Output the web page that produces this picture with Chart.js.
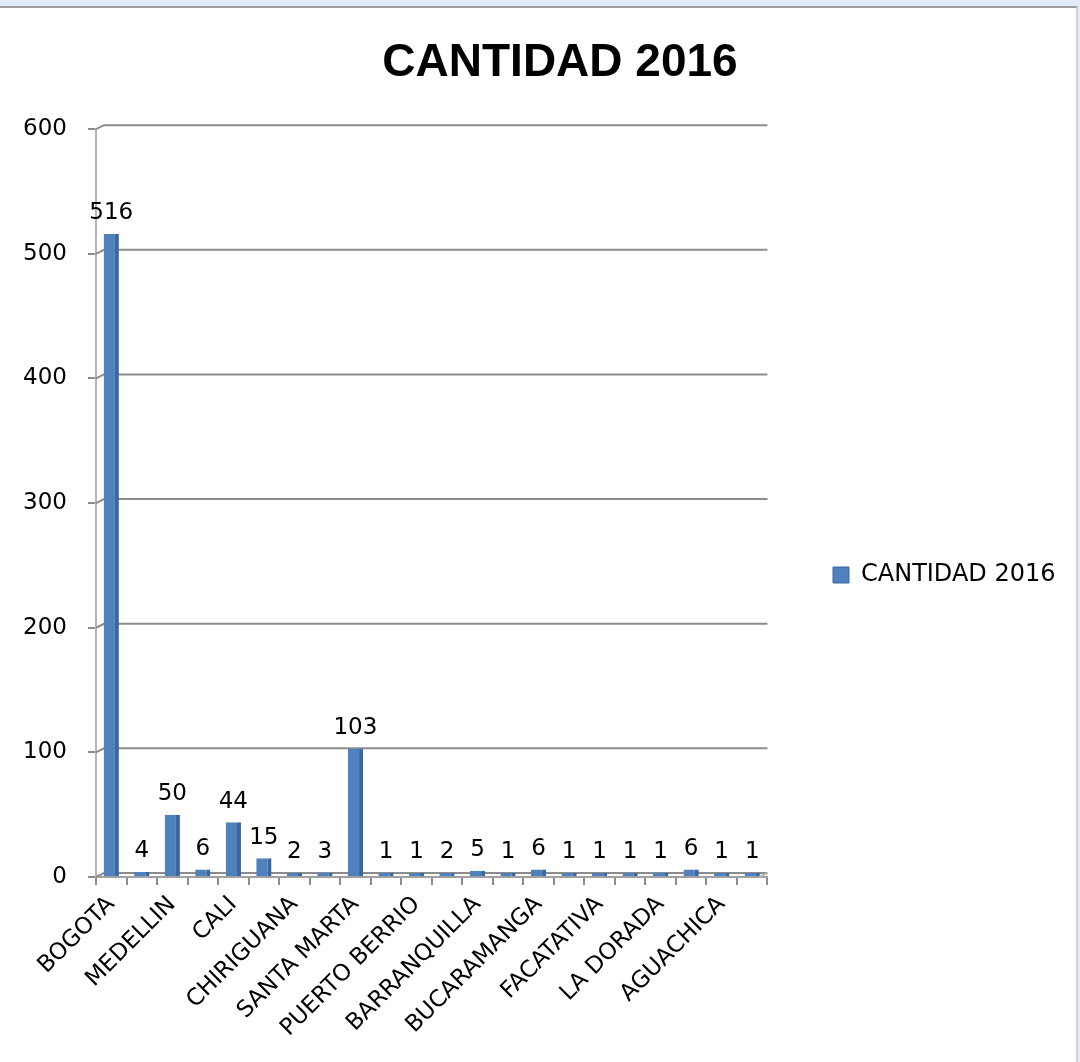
<!DOCTYPE html>
<html lang="es">
<head>
    <meta charset="UTF-8">
    <title>CANTIDAD 2016</title>
    <script src="https://cdn.jsdelivr.net/npm/chart.js"></script>
    <style>
        body {
            margin: 0;
            background-color: #e2ecf8;
            width: 1080px;
            height: 1062px;
            overflow: hidden;
        }

        .frame {
            position: absolute;
            left: 0;
            top: 6px;
            width: 1076px;
            height: 1056px;
            background-color: #ffffff;
            border-top: 2px solid #9e9e9e;
            border-right: 2px solid #d2d2d2;
        }

        canvas {
            display: block;
        }
    </style>
</head>
<body>
    <div class="frame">
        <canvas id="cityChart" width="1076" height="1054"></canvas>
    </div>

    <script>
        // labels that are readable in the picture; the skipped ones are left blank
        const categories = [
            'BOGOTA', '', 'MEDELLIN', '', 'CALI', '', 'CHIRIGUANA', '',
            'SANTA MARTA', '', 'PUERTO BERRIO', '', 'BARRANQUILLA', '',
            'BUCARAMANGA', '', 'FACATATIVA', '', 'LA DORADA', '', 'AGUACHICA', ''
        ];
        const cantidad2016 = [516, 4, 50, 6, 44, 15, 2, 3, 103, 1, 1, 2, 5, 1, 6, 1, 1, 1, 1, 6, 1, 1];
        const seriesName = 'CANTIDAD 2016';
        const chartTitle = 'CANTIDAD 2016';
        const yMax = 600;
        const yStep = 100;

        const labelFont = "'DejaVu Sans', sans-serif";
        const depthX = 8;   // 3d wall offset
        const depthY = 4;

        // values printed over each bar
        const barValues = {
            id: 'barValues',
            afterDatasetsDraw(chart) {
                const ctx = chart.ctx;
                const meta = chart.getDatasetMeta(0);
                ctx.save();
                ctx.font = '23px ' + labelFont;
                ctx.fillStyle = '#000000';
                ctx.textAlign = 'center';
                ctx.textBaseline = 'bottom';
                meta.data.forEach((bar, i) => {
                    ctx.fillText(String(cantidad2016[i]), bar.x, bar.y - 9);
                });
                ctx.restore();
            }
        };

        // back wall grid lines and floor, like the excel 3d column chart
        const wall3d = {
            id: 'wall3d',
            beforeDatasetsDraw(chart) {
                const ctx = chart.ctx;
                const y = chart.scales.y;
                const a = chart.chartArea;
                ctx.save();
                ctx.strokeStyle = '#8c8c8c';
                ctx.lineWidth = 2;
                y.ticks.forEach(t => {
                    const py = y.getPixelForValue(t.value);
                    ctx.beginPath();
                    ctx.moveTo(a.left, py);
                    ctx.lineTo(a.left + depthX, py - depthY);
                    ctx.lineTo(a.right, py - depthY);
                    ctx.stroke();
                });
                // floor right edge
                const p0 = y.getPixelForValue(0);
                ctx.strokeStyle = '#b4b4b4';
                ctx.beginPath();
                ctx.moveTo(a.right, p0 - depthY);
                ctx.lineTo(a.right - depthX, p0);
                ctx.stroke();
                ctx.restore();
            }
        };

        // move title and legend to where Excel put them
        const placeBoxes = {
            id: 'placeBoxes',
            afterLayout(chart) {
                const t = chart.titleBlock;
                if (t) {
                    t.left += 55;
                    t.right += 55;
                }
                const lg = chart.legend;
                if (lg) {
                    const w = lg.right - lg.left;
                    lg.left = 823;
                    lg.right = 823 + w;
                    lg.top = 567 - 100;
                    lg.bottom = 567 + 100;
                }
            }
        };

        const ctx = document.getElementById('cityChart').getContext('2d');
        const cityChart = new Chart(ctx, {
            type: 'bar',
            data: {
                labels: categories,
                datasets: [{
                    label: seriesName,
                    data: cantidad2016,
                    backgroundColor: '#4f81bd',
                    borderColor: '#3a679f',
                    borderWidth: { left: 0, right: 4, top: 0, bottom: 0 },
                    borderSkipped: false,
                    barPercentage: 1.0,
                    categoryPercentage: 0.5,
                    minBarLength: 4
                }]
            },
            options: {
                responsive: false,
                animation: false,
                layout: {
                    padding: { top: 0, right: 66, bottom: 0, left: 0 }
                },
                plugins: {
                    title: {
                        display: true,
                        text: chartTitle,
                        color: '#000000',
                        font: { family: "'Liberation Sans', sans-serif", size: 46, weight: 'bold' },
                        padding: { top: 28, bottom: 38 }
                    },
                    legend: {
                        position: 'right',
                        labels: {
                            boxWidth: 16,
                            boxHeight: 16,
                            color: '#000000',
                            font: { family: labelFont, size: 24 },
                            padding: 10
                        }
                    },
                    tooltip: { enabled: false }
                },
                scales: {
                    x: {
                        grid: {
                            offset: true,
                            drawOnChartArea: false,
                            drawTicks: true,
                            tickLength: 8,
                            color: '#8c8c8c',
                            lineWidth: 2
                        },
                        border: { color: '#a0a0a0', width: 2 },
                        ticks: {
                            autoSkip: false,
                            maxRotation: 45,
                            minRotation: 45,
                            padding: 6,
                            color: '#000000',
                            font: { family: labelFont, size: 23 }
                        },
                        afterFit(scale) {
                            scale.height = 185;
                        }
                    },
                    y: {
                        min: 0,
                        max: yMax,
                        grid: {
                            drawOnChartArea: false,
                            color: '#8c8c8c',
                            lineWidth: 2,
                            tickLength: 8
                        },
                        border: { color: '#b4b4b4', width: 2 },
                        ticks: {
                            stepSize: yStep,
                            padding: 21,
                            color: '#000000',
                            font: { family: labelFont, size: 23 }
                        },
                        afterFit(scale) {
                            scale.width = 96;
                        }
                    }
                }
            },
            plugins: [wall3d, barValues, placeBoxes]
        });
    </script>
</body>
</html>
